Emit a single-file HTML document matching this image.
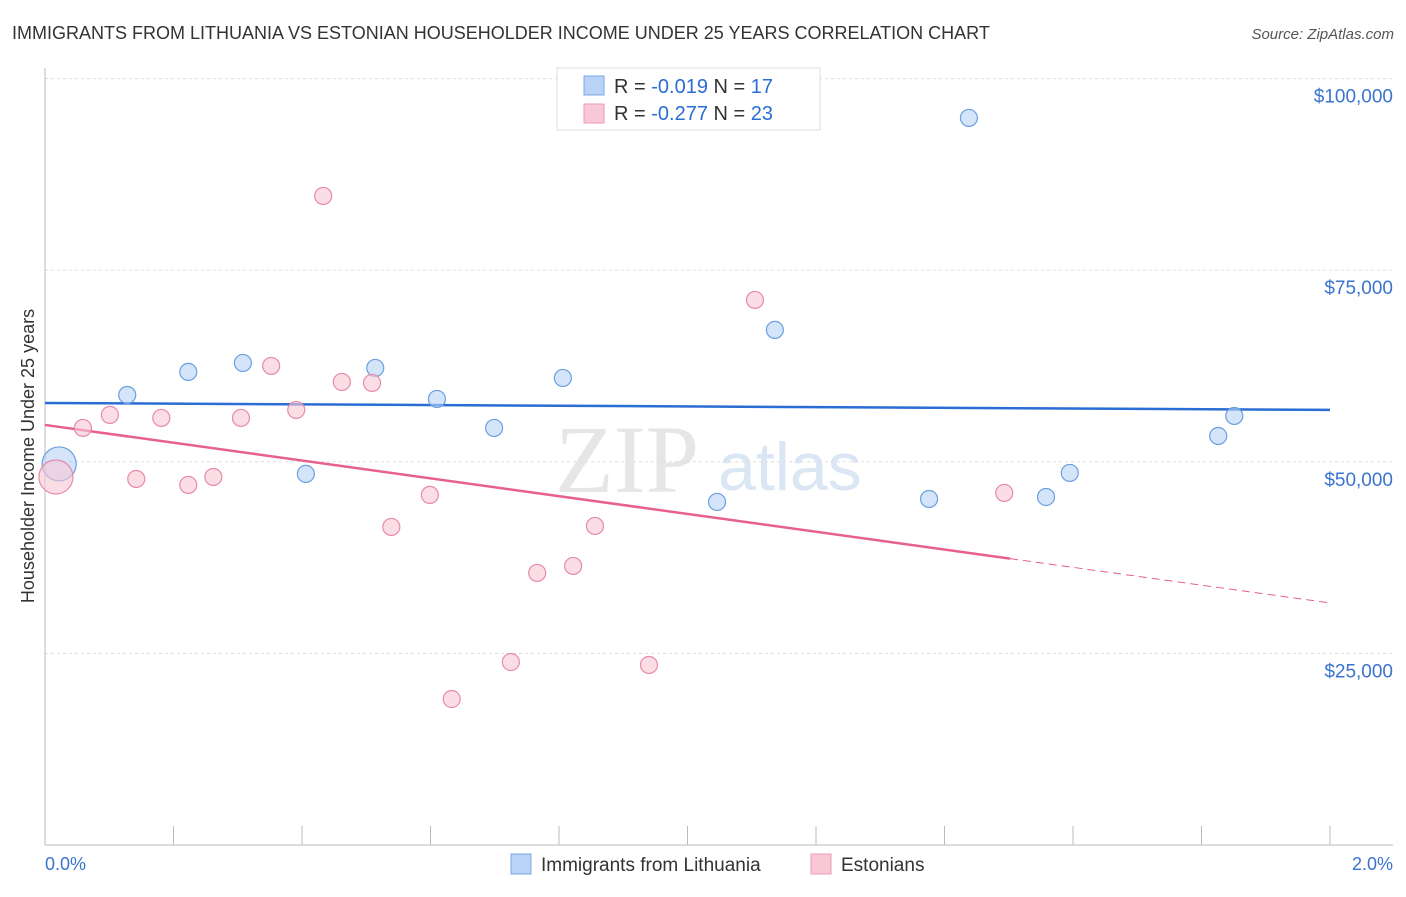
<!DOCTYPE html>
<html><head><meta charset="utf-8"><style>
body{margin:0;background:#fff;font-family:"Liberation Sans",sans-serif;}
</style></head><body>
<svg id="chart" width="1406" height="892" xmlns="http://www.w3.org/2000/svg" style="font-family:'Liberation Sans',sans-serif">
<text x="12" y="39" font-size="18" fill="#333">IMMIGRANTS FROM LITHUANIA VS ESTONIAN HOUSEHOLDER INCOME UNDER 25 YEARS CORRELATION CHART</text>
<text x="1394" y="39" font-size="15" fill="#555" font-style="italic" text-anchor="end">Source: ZipAtlas.com</text>
<text x="555" y="492" font-size="96" fill="#e6e6e6" font-family="Liberation Serif">ZIP</text>
<text x="718" y="490" font-size="68" fill="#dbe6f5">atlas</text>
<g id="grid"></g>
<g id="axes"></g>
<g id="lines"></g>
<g id="points"></g>
<text transform="translate(34,456) rotate(-90)" font-size="18" fill="#333" text-anchor="middle">Householder Income Under 25 years</text>
<text x="45" y="870" font-size="18" fill="#3a74d0">0.0%</text>
<text x="1393" y="870" font-size="18" fill="#3a74d0" text-anchor="end">2.0%</text>
<g>
<rect x="557" y="68" width="263" height="62" fill="#fff" stroke="#ddd"/>
<rect x="584" y="76" width="20" height="19" fill="#b8d3f5" stroke="#7aa7e3"/>
<rect x="584" y="104" width="20" height="19" fill="#f9c8d7" stroke="#ec9ab5"/>
<text x="614" y="93" font-size="20" fill="#333">R = <tspan fill="#2a6dd4">-0.019</tspan>   N =  <tspan fill="#2a6dd4">17</tspan></text>
<text x="614" y="120" font-size="20" fill="#333">R = <tspan fill="#2a6dd4">-0.277</tspan>   N = <tspan fill="#2a6dd4">23</tspan></text>
</g>
<g>
<rect x="511" y="854" width="20" height="20" fill="#b8d3f5" stroke="#7aa7e3"/>
<text x="541" y="871" font-size="19" fill="#333">Immigrants from Lithuania</text>
<rect x="811" y="854" width="20" height="20" fill="#f9c8d7" stroke="#ec9ab5"/>
<text x="841" y="871" font-size="19" fill="#333">Estonians</text>
</g>
</svg>
<script>
const yTicks=[25000,50000,75000,100000];
const yTickLabels=["$25,000","$50,000","$75,000","$100,000"];
const blueX=[0.022,0.128,0.223,0.308,0.406,0.514,0.610,0.699,0.806,1.046,1.136,1.438,1.376,1.558,1.595,1.826,1.851];
const blueY=[49720,58720,61730,62900,48420,62250,58200,54420,60940,44760,67210,94870,45150,45410,48550,53370,55980];
const pinkX=[0.017,0.059,0.101,0.142,0.181,0.223,0.262,0.305,0.352,0.391,0.433,0.462,0.509,0.539,0.599,0.633,0.725,0.766,0.822,0.856,0.940,1.105,1.493];
const pinkY=[48020,54420,56120,47760,55720,46980,48020,55720,62510,56770,84690,60420,60290,41500,45680,19050,23880,35500,36410,41630,23490,71120,45940];
const blueTrend=[57680,56770];
const pinkTrend=[54810,31580];
const pinkSolidEnd=1.502;
const NS="http://www.w3.org/2000/svg";
const X=p=>45+p/2*1285, Y=v=>845-v/25000*191.6;
function mk(t,a,parent){const e=document.createElementNS(NS,t);for(const k in a)e.setAttribute(k,a[k]);document.getElementById(parent).appendChild(e);return e;}
yTicks.forEach((v,i)=>{
 const g=mk('line',{x1:45,x2:1393,y1:Y(v),y2:Y(v),stroke:'#ddd','stroke-dasharray':'3,3'},'grid');
 
 
 const t=mk('text',{x:1393,y:Y(v)+24,'font-size':19,fill:'#3a74d0','text-anchor':'end'},'grid');
 t.textContent=yTickLabels[i];
 
 
});
const ax=mk('line',{x1:45,x2:45,y1:68,y2:845,stroke:'#bbb'},'axes');


const bx=mk('line',{x1:45,x2:1393,y1:845,y2:845,stroke:'#bbb'},'axes');


for(let i=0;i<=10;i++){const tk=mk('line',{x1:X(i*0.2),x2:X(i*0.2),y1:826,y2:845,stroke:'#bbb'},'axes');
 
 }
function pts(xs,ys,fill,stroke,name){xs.forEach((x,i)=>{const r=i===0?17:8.5;
 const c=mk('circle',{cx:X(x),cy:Y(ys[i]),r:r,fill:fill,'fill-opacity':0.6,stroke:stroke,'stroke-width':1.2},'points');
 
 });}
pts(blueX,blueY,'#b8d3f5','#6a9fe0','lithuania-point');
pts(pinkX,pinkY,'#f9c6d6','#e88aa8','estonian-point');
const bl=mk('line',{x1:X(0),y1:Y(blueTrend[0]),x2:X(2),y2:Y(blueTrend[1]),stroke:'#2a6dd4','stroke-width':2.5},'lines');


const pm=v=>pinkTrend[0]+(pinkTrend[1]-pinkTrend[0])*v/2;
const pl=mk('line',{x1:X(0),y1:Y(pinkTrend[0]),x2:X(pinkSolidEnd),y2:Y(pm(pinkSolidEnd)),stroke:'#e8608e','stroke-width':2.5},'lines');


const pd=mk('line',{x1:X(pinkSolidEnd),y1:Y(pm(pinkSolidEnd)),x2:X(2),y2:Y(pinkTrend[1]),stroke:'#e8608e','stroke-width':1,'stroke-dasharray':'8,5'},'lines');


</script>
</body></html>
